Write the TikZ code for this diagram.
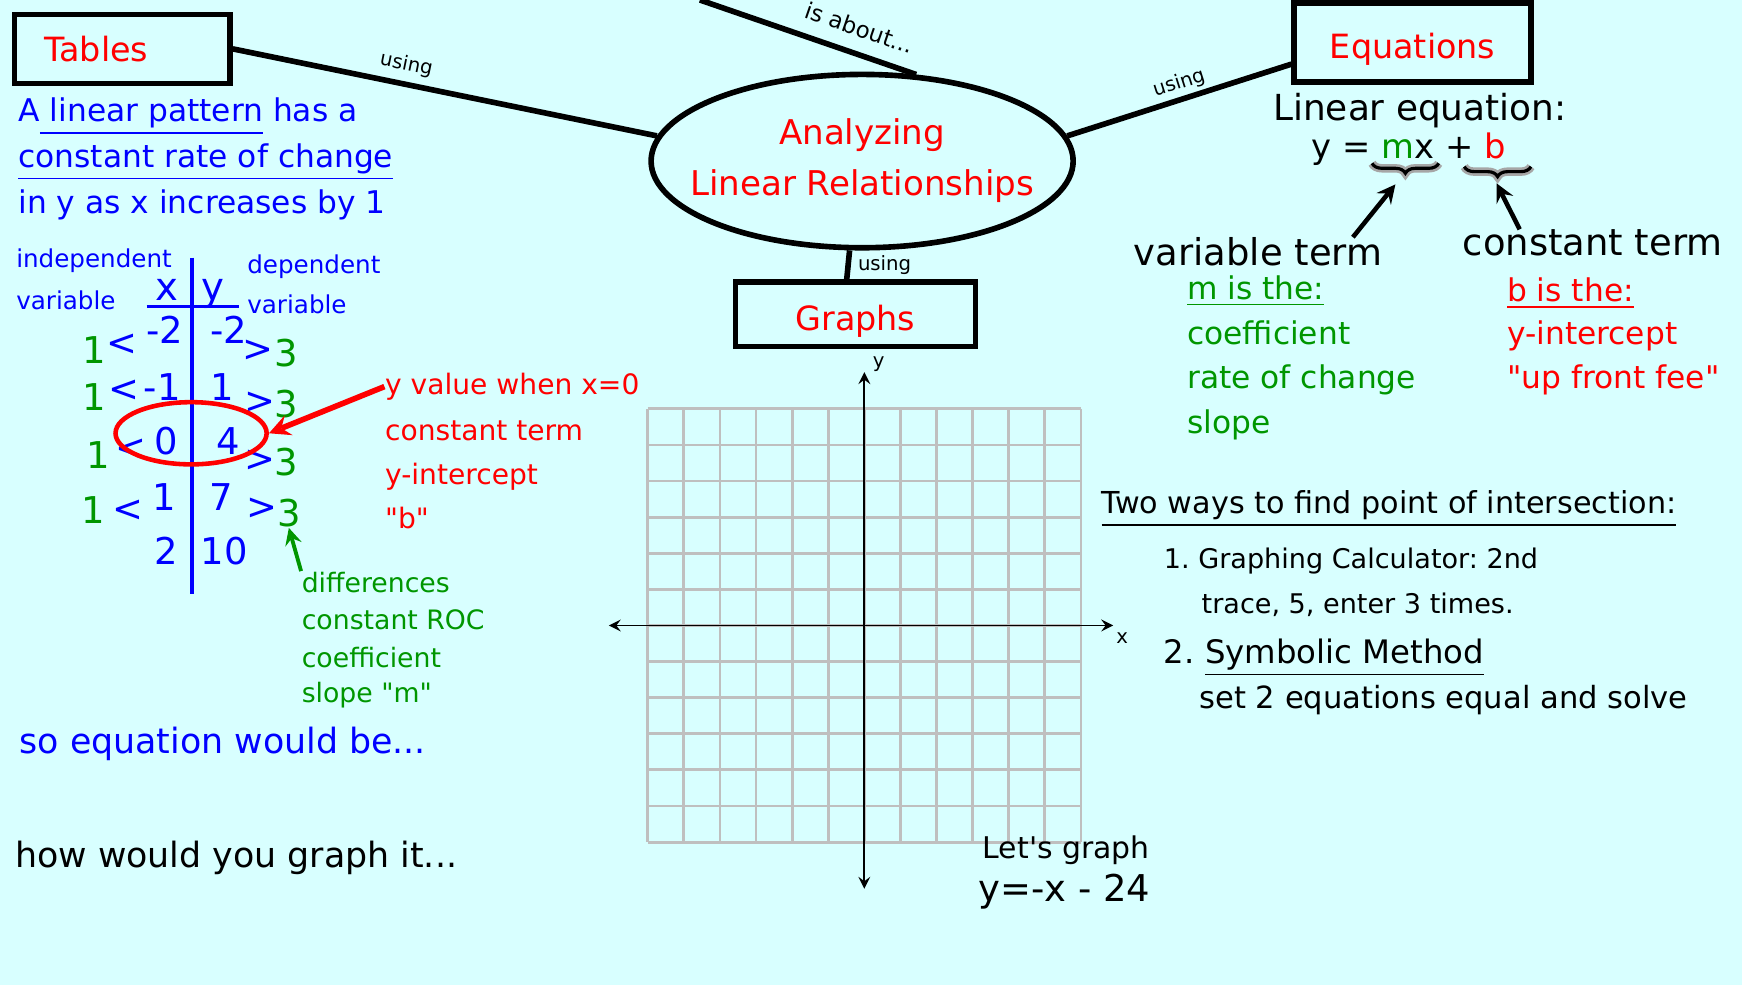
\documentclass[tikz,border=0pt]{standalone}
\usepackage{fontspec}
\setmainfont{DejaVu Sans}
\usetikzlibrary{shapes.geometric,arrows,decorations.pathreplacing}
\definecolor{bgcyan}{RGB}{216,255,255}
\definecolor{dgreen}{RGB}{0,150,0}
\newcommand{\fsz}[1]{\fontsize{#1}{#1}\selectfont}
\frenchspacing

\begin{document}
\begin{tikzpicture}[x=0.01111cm, y=-0.01111cm, >=stealth,
  box/.style={draw, line width=1.6pt, inner sep=0pt, text=red, font=\fsz{9.5pt}},
  conn/.style={line width=1.6pt},
  using/.style={font=\fsz{5.6pt}, inner sep=1pt},
  txt/.style={anchor=west, inner sep=0pt},
  num/.style={inner sep=0pt, text=blue, font=\fsz{10.5pt}},
  gridline/.style={gray!50, line width=0.8pt},
  axisline/.style={line width=0.5pt, <->},
  brc/.style={decorate, decoration={brace, amplitude=0.1cm, mirror}}]
  \fill[bgcyan] (0,0) rectangle (1568,887);
  \useasboundingbox (0,0) rectangle (1568,887);

  % concept map
  \node[box, minimum height=0.689cm, text width=1.555cm, inner xsep=0.3cm, align=left] (tables) at (110,44) {Tables};
  \node[box, minimum width=2.366cm, minimum height=0.789cm, text height=9pt, text depth=0pt] (eqs) at (1271.5,38.5) {Equations};
  \node[box, minimum width=2.4cm, minimum height=0.644cm, text height=9pt, text depth=0pt] (graphs) at (770,283) {Graphs};
  \node[ellipse, draw, line width=1.6pt, minimum width=4.22cm, minimum height=1.733cm, inner xsep=-0.25cm, inner ysep=0pt,
        text=red, align=center, font=\fontsize{9.7pt}{14.5pt}\selectfont] (ana) at (776,145) {Analyzing\\Linear Relationships};
  \coordinate (top) at (630,0);

  \draw[conn] (tables.east) -- node[using, pos=0.4, above=1pt, sloped] {using} (ana.173);
  \draw[conn] (top) -- node[using, pos=0.7, above=3pt, sloped, font=\fsz{6.5pt}] {is about...} (ana.58);
  \draw[conn] (ana.7) -- node[using, pos=0.52, above=0pt, sloped] {using} (eqs.190);
  \draw[conn] (ana.262) -- node[using, pos=0.5, right=1pt] {using} (graphs.104);

  % tables side
  \node[txt, text=blue, font=\fsz{8.9pt}] (pat1) at (16,105) {A\underline{\ linear pattern} has a};
  \node[txt, text=blue, font=\fsz{8.9pt}] (pat2) at (16,146) {\underline{constant rate of change}};
  \node[txt, text=blue, font=\fsz{8.9pt}] (pat3) at (16,184) {in y as x increases by 1};
  \node[txt, text=blue, font=\fsz{7pt}] (ind1) at (14,235) {independent};
  \node[txt, text=blue, font=\fsz{7pt}] (ind2) at (14,270) {variable};
  \node[txt, text=blue, font=\fsz{7pt}] (dep1) at (222,240) {dependent};
  \node[txt, text=blue, font=\fsz{7pt}] (dep2) at (222,274) {variable};

  \draw[blue, line width=1pt] (132,276) -- (215,276);
  \draw[blue, line width=1pt] (173,232) -- (173,535);
  \node[num, font=\fsz{11pt}, text height=1ex, text depth=0pt] (hx) at (150,262) {x};
  \node[num, font=\fsz{11pt}, text height=1ex, text depth=0pt] (hy) at (192,262) {y};
  \foreach \xv/\yv/\xa/\xb/\ty [count=\i] in {-2/-2/148/206/297, -1/1/146/200/348, 0/4/150/205/397, 1/7/148/199/447, 2/10/150/202/496}
  {
    \node[num] (xc\i) at (\xa,\ty) {\xv};
    \node[num] (yc\i) at (\xb,\ty) {\yv};
  }
  \foreach \lx/\ly/\ax/\ay/\gx/\gy/\rx/\ry [count=\i] in {85/315/110/310/232/316/258/318, 85/357/112/352/234/363/258/364, 88/410/118/405/234/415/258/416, 84/459/115/460/236/458/260/462}
  {
    \node[num, text=dgreen] (one\i) at (\lx,\ly) {1};
    \node[num] (lt\i) at (\ax,\ay) {<};
    \node[num] (gt\i) at (\gx,\gy) {>};
    \node[num, text=dgreen] (three\i) at (\rx,\ry) {3};
  }
  \node[ellipse, draw=red, line width=1.3pt, minimum width=1.511cm, minimum height=0.622cm, inner sep=0pt] (zero) at (172,390) {};

  \node[txt, text=red, font=\fsz{8pt}] (yval) at (346,348) {y value when x=0};
  \node[txt, text=red, font=\fsz{8pt}] (cst) at (346,388) {constant term};
  \node[txt, text=red, font=\fsz{8pt}] (yint) at (346,429) {y-intercept};
  \node[txt, text=red, font=\fsz{8pt}] (bq) at (346,466) {\textquotedbl b\textquotedbl};
  \draw[->, red, line width=1.6pt] (yval.west) -- (zero.east);

  \node[txt, text=dgreen, font=\fsz{7.6pt}] (diff) at (271,524) {differences};
  \node[txt, text=dgreen, font=\fsz{7.6pt}] (roc) at (271,558) {constant ROC};
  \node[txt, text=dgreen, font=\fsz{7.6pt}] (coef) at (271,592) {coefficient};
  \node[txt, text=dgreen, font=\fsz{7.6pt}] (slm) at (271,626) {slope \textquotedbl m\textquotedbl};
  \draw[->, dgreen, line width=1.1pt] (diff.north west) -- (three4.south);

  \node[txt, text=blue, font=\fsz{9.9pt}] (soeq) at (17,670) {so equation would be...};
  \node[txt, font=\fsz{9.9pt}] (how) at (13,772) {how would you graph it...};

  % coordinate grid
  \foreach \i in {0,...,12}
  {
    \draw[gridline] ({583+\i*32.5},368) -- ({583+\i*32.5},758);
    \draw[gridline] (583,{368+\i*32.5}) -- (973,{368+\i*32.5});
  }
  \coordinate (yb) at (778,800);
  \coordinate (yt) at (778,335);
  \coordinate (xl) at (548,563);
  \coordinate (xr) at (1002,563);
  \draw[axisline] (yb) -- (yt);
  \draw[axisline] (xl) -- (xr);
  \node[using] (ylab) at (791,328) {y};
  \node[using] (xlab) at (1010,574) {x};
  \node[txt, font=\fsz{8.5pt}] (lets) at (884,765) {Let\textquotesingle s graph};
  \node[txt, font=\fsz{10.5pt}] (ex) at (880,803) {y=-x - 24};

  % equations side
  \node[inner sep=0pt, font=\fsz{10.2pt}] (lineq) at (1278,100) {Linear equation:};
  \node[inner sep=0pt, font=\fsz{9.6pt}] (form) at (1268,134) {y = \textcolor{dgreen}{m}x + \textcolor{red}{b}};
  \coordinate (m1) at (1235,147);
  \coordinate (m2) at (1295,147);
  \coordinate (b1) at (1318,150);
  \coordinate (b2) at (1378,150);
  \draw[brc, gray!70, line width=2.4pt] (m1) -- (m2);
  \draw[brc, line width=0.9pt] (m1) -- (m2);
  \draw[brc, gray!70, line width=2.4pt] (b1) -- (b2);
  \draw[brc, line width=0.9pt] (b1) -- (b2);
  \coordinate (mtip) at (1256,166);
  \coordinate (btip) at (1347,165);

  \node[txt, font=\fsz{10.5pt}] (vterm) at (1020,227) {variable term};
  \node[txt, font=\fsz{10.5pt}] (cterm) at (1316,219) {constant term};
  \draw[->, line width=1.3pt] ([xshift=-0.3cm]vterm.north east) -- (mtip);
  \draw[->, line width=1.3pt] ([xshift=-0.73cm]cterm.north) -- (btip);

  \node[txt, text=dgreen, font=\fsz{8.9pt}] (mis) at (1068,262) {\underline{m is the:}};
  \node[txt, text=dgreen, font=\fsz{8.9pt}] (mco) at (1068,300) {coefficient};
  \node[txt, text=dgreen, font=\fsz{8.9pt}] (mrc) at (1068,342) {rate of change};
  \node[txt, text=dgreen, font=\fsz{8.9pt}] (msl) at (1068,382) {slope};
  \node[txt, text=red, font=\fsz{8.9pt}] (bis) at (1356,264) {\underline{b is the:}};
  \node[txt, text=red, font=\fsz{8.9pt}] (byi) at (1356,302) {y-intercept};
  \node[txt, text=red, font=\fsz{8.9pt}] (bfee) at (1356,342) {\textquotedbl up front fee\textquotedbl};

  % intersection
  \node[txt, font=\fsz{8.6pt}] (two) at (991,458) {\underline{Two ways to find point of intersection:}};
  \node[txt, font=\fsz{7.7pt}] (way1) at (1047,505) {1. Graphing Calculator: 2nd};
  \node[txt, font=\fsz{7.7pt}] (way1b) at (1081,544) {trace, 5, enter 3 times.};
  \node[txt, font=\fsz{9.2pt}] (way2) at (1047,592) {2. \underline{Symbolic Method}};
  \node[txt, font=\fsz{8.7pt}] (way2b) at (1079,630) {set 2 equations equal and solve};
\end{tikzpicture}
\end{document}
